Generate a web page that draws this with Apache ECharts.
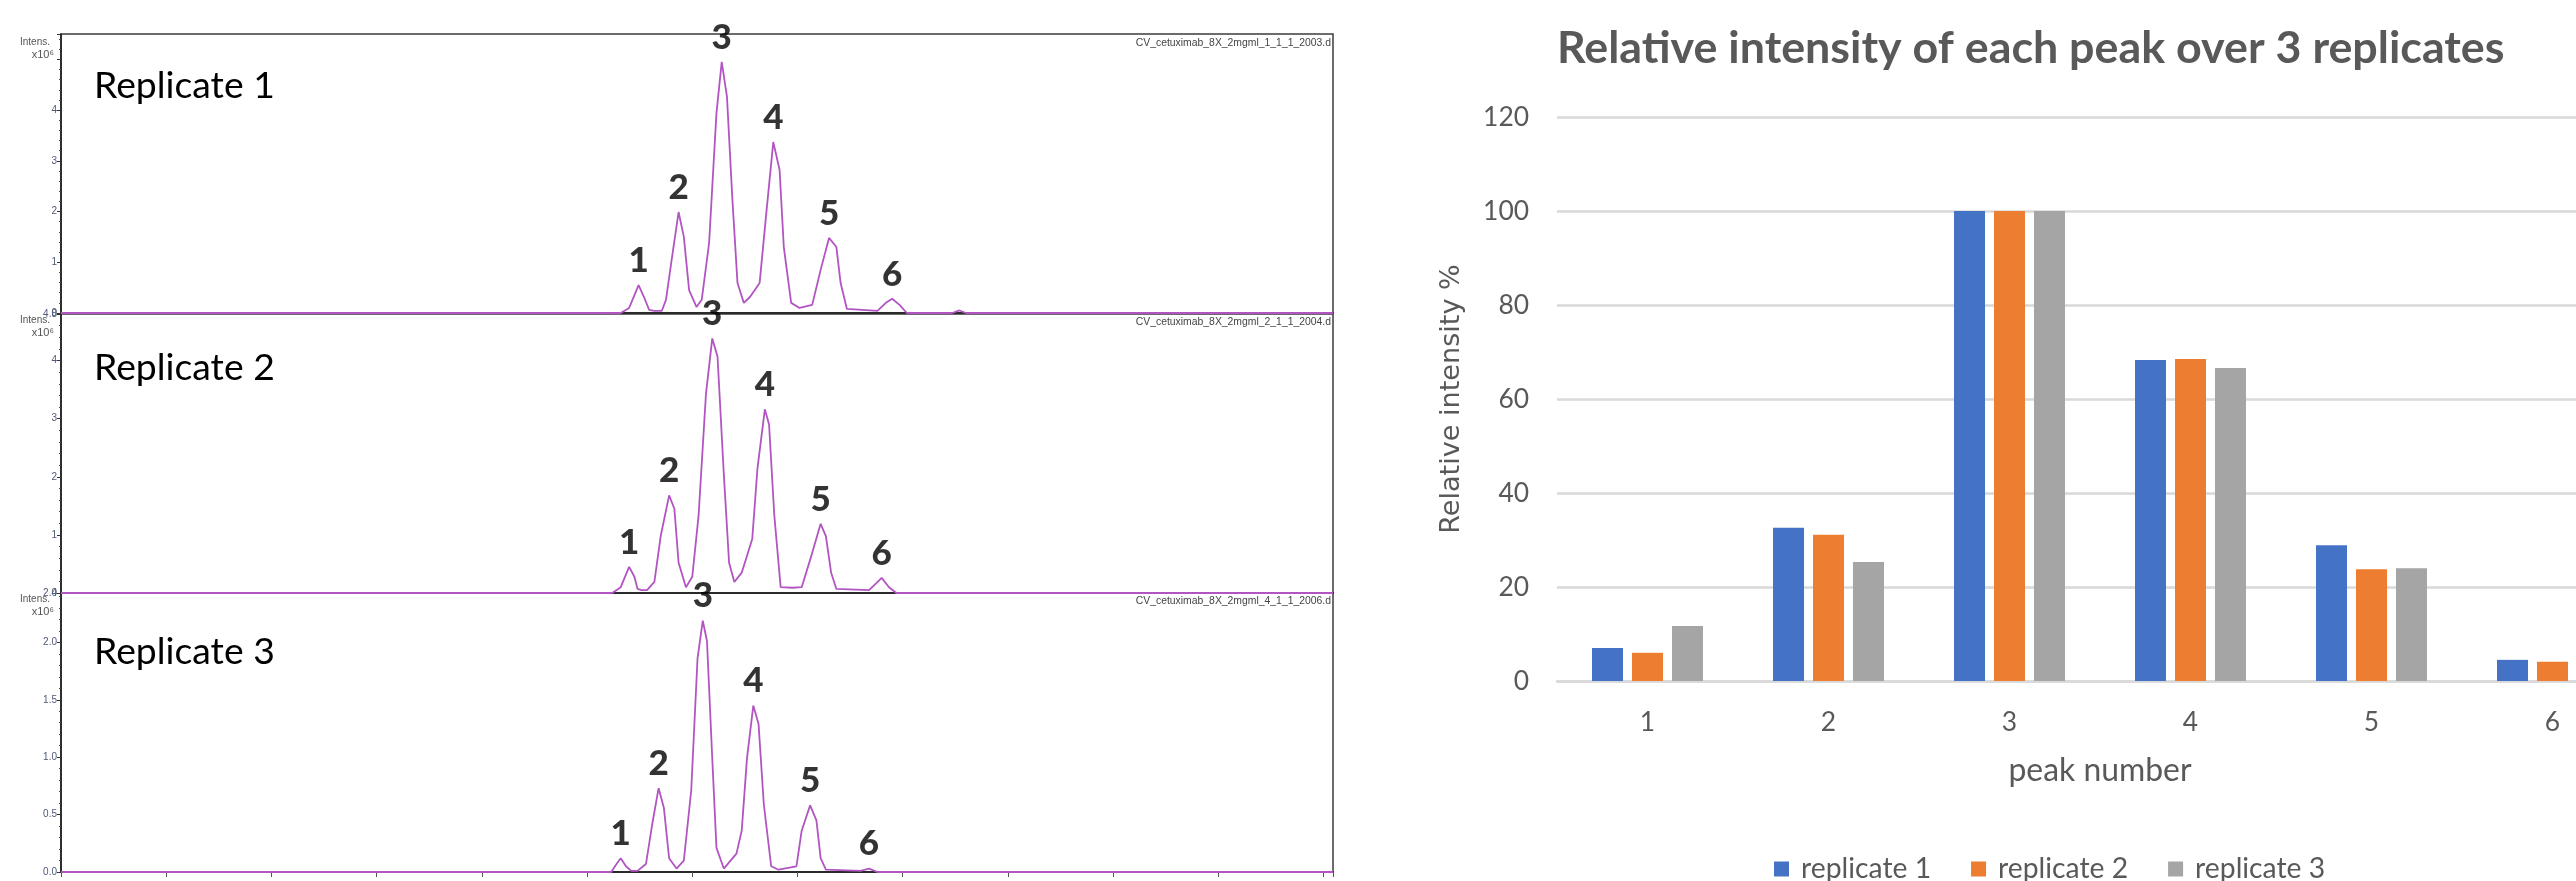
<!DOCTYPE html>
<html>
<head>
<meta charset="utf-8">
<script src="https://cdn.jsdelivr.net/npm/echarts@6/dist/echarts.min.js"></script>
<style>
  html, body { margin: 0; padding: 0; background: #fff; }
  #main { width: 2576px; height: 881px; }
</style>
</head>
<body>
<div id="main"></div>
<script>
// ---- data ----
const peakNames = ['1', '2', '3', '4', '5', '6'];

// chromatograms: retention time (min) and intensity (x10^6)
const rep1Time = [0, 5.32, 5.40, 5.49, 5.54, 5.59, 5.64, 5.71, 5.75, 5.80, 5.87, 5.92, 5.97, 6.04, 6.09, 6.16, 6.23, 6.28, 6.33, 6.38, 6.43, 6.49, 6.55, 6.64, 6.70, 6.77, 6.83, 6.87, 6.94, 7.02, 7.14, 7.22, 7.30, 7.37, 7.41, 7.47, 7.76, 7.84, 7.90, 7.97, 8.04, 8.47, 8.54, 8.60, 12.09];
const rep1Intensity = [0, 0, 0.10, 0.55, 0.32, 0.06, 0.04, 0.04, 0.26, 0.99, 1.99, 1.50, 0.45, 0.12, 0.26, 1.38, 3.94, 4.95, 4.26, 2.29, 0.59, 0.20, 0.32, 0.59, 1.89, 3.37, 2.82, 1.30, 0.20, 0.10, 0.16, 0.85, 1.48, 1.30, 0.59, 0.08, 0.04, 0.20, 0.28, 0.16, 0, 0, 0.05, 0, 0];

const rep2Time = [0, 5.24, 5.32, 5.40, 5.45, 5.48, 5.52, 5.57, 5.64, 5.70, 5.78, 5.83, 5.87, 5.94, 6.00, 6.06, 6.13, 6.19, 6.24, 6.30, 6.35, 6.40, 6.47, 6.57, 6.62, 6.69, 6.73, 6.78, 6.84, 6.95, 7.04, 7.13, 7.22, 7.27, 7.32, 7.37, 7.68, 7.75, 7.80, 7.87, 7.94, 12.09];
const rep2Intensity = [0, 0, 0.10, 0.45, 0.28, 0.07, 0.05, 0.05, 0.19, 0.98, 1.68, 1.45, 0.52, 0.10, 0.28, 1.33, 3.42, 4.38, 4.07, 2.04, 0.52, 0.19, 0.35, 0.93, 2.15, 3.16, 2.90, 1.33, 0.10, 0.09, 0.10, 0.63, 1.19, 0.98, 0.35, 0.07, 0.05, 0.17, 0.26, 0.10, 0, 0];

const rep3Time = [0, 5.23, 5.28, 5.32, 5.37, 5.42, 5.48, 5.56, 5.62, 5.68, 5.73, 5.78, 5.85, 5.92, 5.99, 6.05, 6.10, 6.14, 6.19, 6.23, 6.30, 6.42, 6.47, 6.52, 6.58, 6.63, 6.68, 6.75, 6.82, 6.99, 7.04, 7.12, 7.18, 7.22, 7.27, 7.60, 7.68, 7.76, 12.09];
const rep3Intensity = [0, 0, 0.07, 0.12, 0.05, 0.01, 0.01, 0.07, 0.42, 0.73, 0.56, 0.12, 0.03, 0.10, 0.71, 1.86, 2.19, 2.01, 0.99, 0.21, 0.03, 0.16, 0.36, 0.99, 1.45, 1.29, 0.59, 0.05, 0.02, 0.05, 0.36, 0.58, 0.45, 0.12, 0.02, 0.01, 0.03, 0, 0];

// apex of each numbered peak
const rep1PeakTime = [5.49, 5.87, 6.28, 6.77, 7.30, 7.90];
const rep1PeakHeight = [0.55, 1.99, 4.95, 3.37, 1.48, 0.28];
const rep2PeakTime = [5.40, 5.78, 6.19, 6.69, 7.22, 7.80];
const rep2PeakHeight = [0.45, 1.68, 4.38, 3.16, 1.19, 0.26];
const rep3PeakTime = [5.32, 5.68, 6.10, 6.58, 7.12, 7.68];
const rep3PeakHeight = [0.12, 0.73, 2.19, 1.45, 0.58, 0.03];

// relative intensity % of each peak
const rep1Relative = [7.0, 32.6, 100, 68.3, 28.9, 4.5];
const rep2Relative = [6.0, 31.1, 100, 68.5, 23.8, 4.1];
const rep3Relative = [11.7, 25.3, 100, 66.6, 24.0, 4.0];

const replicateNames = ['Replicate 1', 'Replicate 2', 'Replicate 3'];
const seriesNames = ['replicate 1', 'replicate 2', 'replicate 3'];
const fileNames = ['CV_cetuximab_8X_2mgml_1_1_1_2003.d', 'CV_cetuximab_8X_2mgml_2_1_1_2004.d', 'CV_cetuximab_8X_2mgml_4_1_1_2006.d'];
const yMaxes = [5.5, 4.8, 2.43];
const yIntervals = [1, 1, 0.5];
const chartTitle = 'Relative intensity of each peak over 3 replicates';

// ---- layout ----
const panelTop = [34, 314, 593];
const panelHeight = 279;
const replicateLabelY = [86, 368, 652];
const fileLabelY = [43, 322, 601];
const intensLabelY = [42, 320, 599];

// font size that makes a text span a given width
const measurer = document.createElement('canvas').getContext('2d');
function fitSize(text, font, width) {
  measurer.font = font.replace('SIZE', '100px');
  return Math.round(1000 * width / measurer.measureText(text).width) / 10;
}

const repSize = fitSize('Replicate 1', 'SIZE Lato', 181);
const fileSize = fitSize(fileNames[0], 'SIZE "Liberation Sans"', 195);
const intensSize = fitSize('Intens.', 'SIZE "Liberation Sans"', 30);
const titleSize = fitSize(chartTitle, 'bold SIZE Lato', 948);
const tickSize = fitSize('120', 'SIZE Lato', 46);
const nameSize = fitSize('peak number', 'SIZE Lato', 183);
const legendSize = fitSize('replicate 1', 'SIZE Lato', 130);
const yNameSize = fitSize('Relative intensity %', 'SIZE "DejaVu Sans"', 270);

const traces = [[rep1Time, rep1Intensity], [rep2Time, rep2Intensity], [rep3Time, rep3Intensity]];
const peaks = [[rep1PeakTime, rep1PeakHeight], [rep2PeakTime, rep2PeakHeight], [rep3PeakTime, rep3PeakHeight]];
const relatives = [rep1Relative, rep2Relative, rep3Relative];
const barColors = ['#4472C4', '#ED7D31', '#A5A5A5'];
const traceColor = '#b255c2';

const grids = [];
const xAxes = [];
const yAxes = [];
const series = [];
const graphics = [];

for (let i = 0; i < 3; i++) {
  grids.push({
    left: 61, top: panelTop[i], width: 1272, height: panelHeight,
    outerBoundsMode: 'none',
    show: true, borderColor: '#3c3c3c', borderWidth: 1.5
  });
  xAxes.push({
    type: 'value', gridIndex: i, min: 0, max: 12.09, interval: 1,
    axisLine: { show: true, onZero: false, lineStyle: { color: '#2a2a2a', width: 2 } },
    axisTick: { show: i === 2, length: 5, lineStyle: { color: '#555' } },
    axisLabel: { show: false },
    splitLine: { show: false }
  });
  yAxes.push({
    type: 'value', gridIndex: i, min: 0, max: yMaxes[i], interval: yIntervals[i],
    axisLine: { show: true, lineStyle: { color: '#1a1a1a', width: 1.5 } },
    axisTick: { show: true, length: 4, lineStyle: { color: '#333' } },
    minorTick: { show: true, splitNumber: 5, length: 2, lineStyle: { color: '#444' } },
    axisLabel: {
      fontSize: 10, color: '#4f5876', margin: 4, fontFamily: 'Liberation Sans',
      formatter: v => (v >= 5 ? '' : (yIntervals[i] < 1 ? v.toFixed(1) : String(v)))
    },
    splitLine: { show: false }
  });
  series.push({
    type: 'line', xAxisIndex: i, yAxisIndex: i, silent: true,
    showSymbol: false, symbol: 'none',
    lineStyle: { color: traceColor, width: 1.8 },
    data: traces[i][0].map((t, k) => [t, traces[i][1][k]]),
    z: 3
  });
  series.push({
    type: 'scatter', xAxisIndex: i, yAxisIndex: i, silent: true,
    symbolSize: 0,
    label: {
      show: true, position: 'top', distance: 7, formatter: '{b}',
      fontFamily: 'Lato', fontWeight: 900, fontSize: 35, color: '#000'
    },
    data: peaks[i][0].map((t, k) => ({ name: peakNames[k], value: [t, peaks[i][1][k]] })),
    z: 4
  });
  graphics.push(
    { type: 'text', x: 94, y: replicateLabelY[i],
      style: { text: replicateNames[i], fontFamily: 'Lato', fontSize: repSize, fill: '#000',
               textAlign: 'left', textVerticalAlign: 'middle' } },
    { type: 'text', x: 1331, y: fileLabelY[i],
      style: { text: fileNames[i], fontFamily: 'Liberation Sans', fontSize: fileSize, fill: '#444',
               textAlign: 'right', textVerticalAlign: 'middle' } },
    { type: 'text', x: 50, y: intensLabelY[i],
      style: { text: 'Intens.', fontFamily: 'Liberation Sans', fontSize: intensSize, fill: '#555',
               textAlign: 'right', textVerticalAlign: 'middle' } },
    { type: 'text', x: 54, y: intensLabelY[i] + 13,
      style: { text: 'x10\u2076', fontFamily: 'Liberation Sans', fontSize: intensSize + 1, fill: '#555',
               textAlign: 'right', textVerticalAlign: 'middle' } }
  );
}

// ---- bar chart (runs past the right edge, as in the source) ----
grids.push({ left: 1557, top: 117, width: 1086, height: 564, outerBoundsMode: 'none' });
xAxes.push({
  type: 'category', gridIndex: 3, data: peakNames,
  name: 'peak number', nameLocation: 'middle', nameGap: 74,
  nameTextStyle: { fontFamily: 'Lato', fontSize: nameSize, color: '#595959' },
  axisLine: { show: true, lineStyle: { color: '#d9d9d9', width: 2.5 } },
  axisTick: { show: false },
  axisLabel: { fontFamily: 'Lato', fontSize: tickSize, color: '#595959', margin: 28 }
});
yAxes.push({
  type: 'value', gridIndex: 3, min: 0, max: 120, interval: 20,
  name: 'Relative intensity %', nameLocation: 'middle', nameGap: 92,
  nameTextStyle: { fontFamily: 'DejaVu Sans', fontSize: yNameSize, color: '#595959' },
  axisLine: { show: false },
  axisTick: { show: false },
  axisLabel: { fontFamily: 'Lato', fontSize: tickSize, color: '#595959', margin: 28 },
  splitLine: { lineStyle: { color: '#d9d9d9', width: 2.5 } }
});
for (let s = 0; s < 3; s++) {
  series.push({
    name: seriesNames[s], type: 'bar', xAxisIndex: 3, yAxisIndex: 3,
    barWidth: 31, barGap: '29%',
    itemStyle: { color: barColors[s] },
    data: relatives[s]
  });
}
graphics.push({
  type: 'text', x: 1557, y: 49,
  style: { text: chartTitle, fontFamily: 'Lato', fontWeight: 'bold', fontSize: titleSize, fill: '#595959',
           textAlign: 'left', textVerticalAlign: 'middle' }
});

const chart = echarts.init(document.getElementById('main'));
chart.setOption({
  animation: false,
  backgroundColor: '#fff',
  grid: grids,
  xAxis: xAxes,
  yAxis: yAxes,
  series: series,
  graphic: graphics,
  legend: {
    data: seriesNames, left: 1769, top: 850,
    icon: 'rect', itemWidth: 15, itemHeight: 15, itemGap: 40,
    textStyle: { fontFamily: 'Lato', fontSize: legendSize, color: '#595959', padding: [0, 0, 0, 7] }
  }
});
</script>
</body>
</html>
